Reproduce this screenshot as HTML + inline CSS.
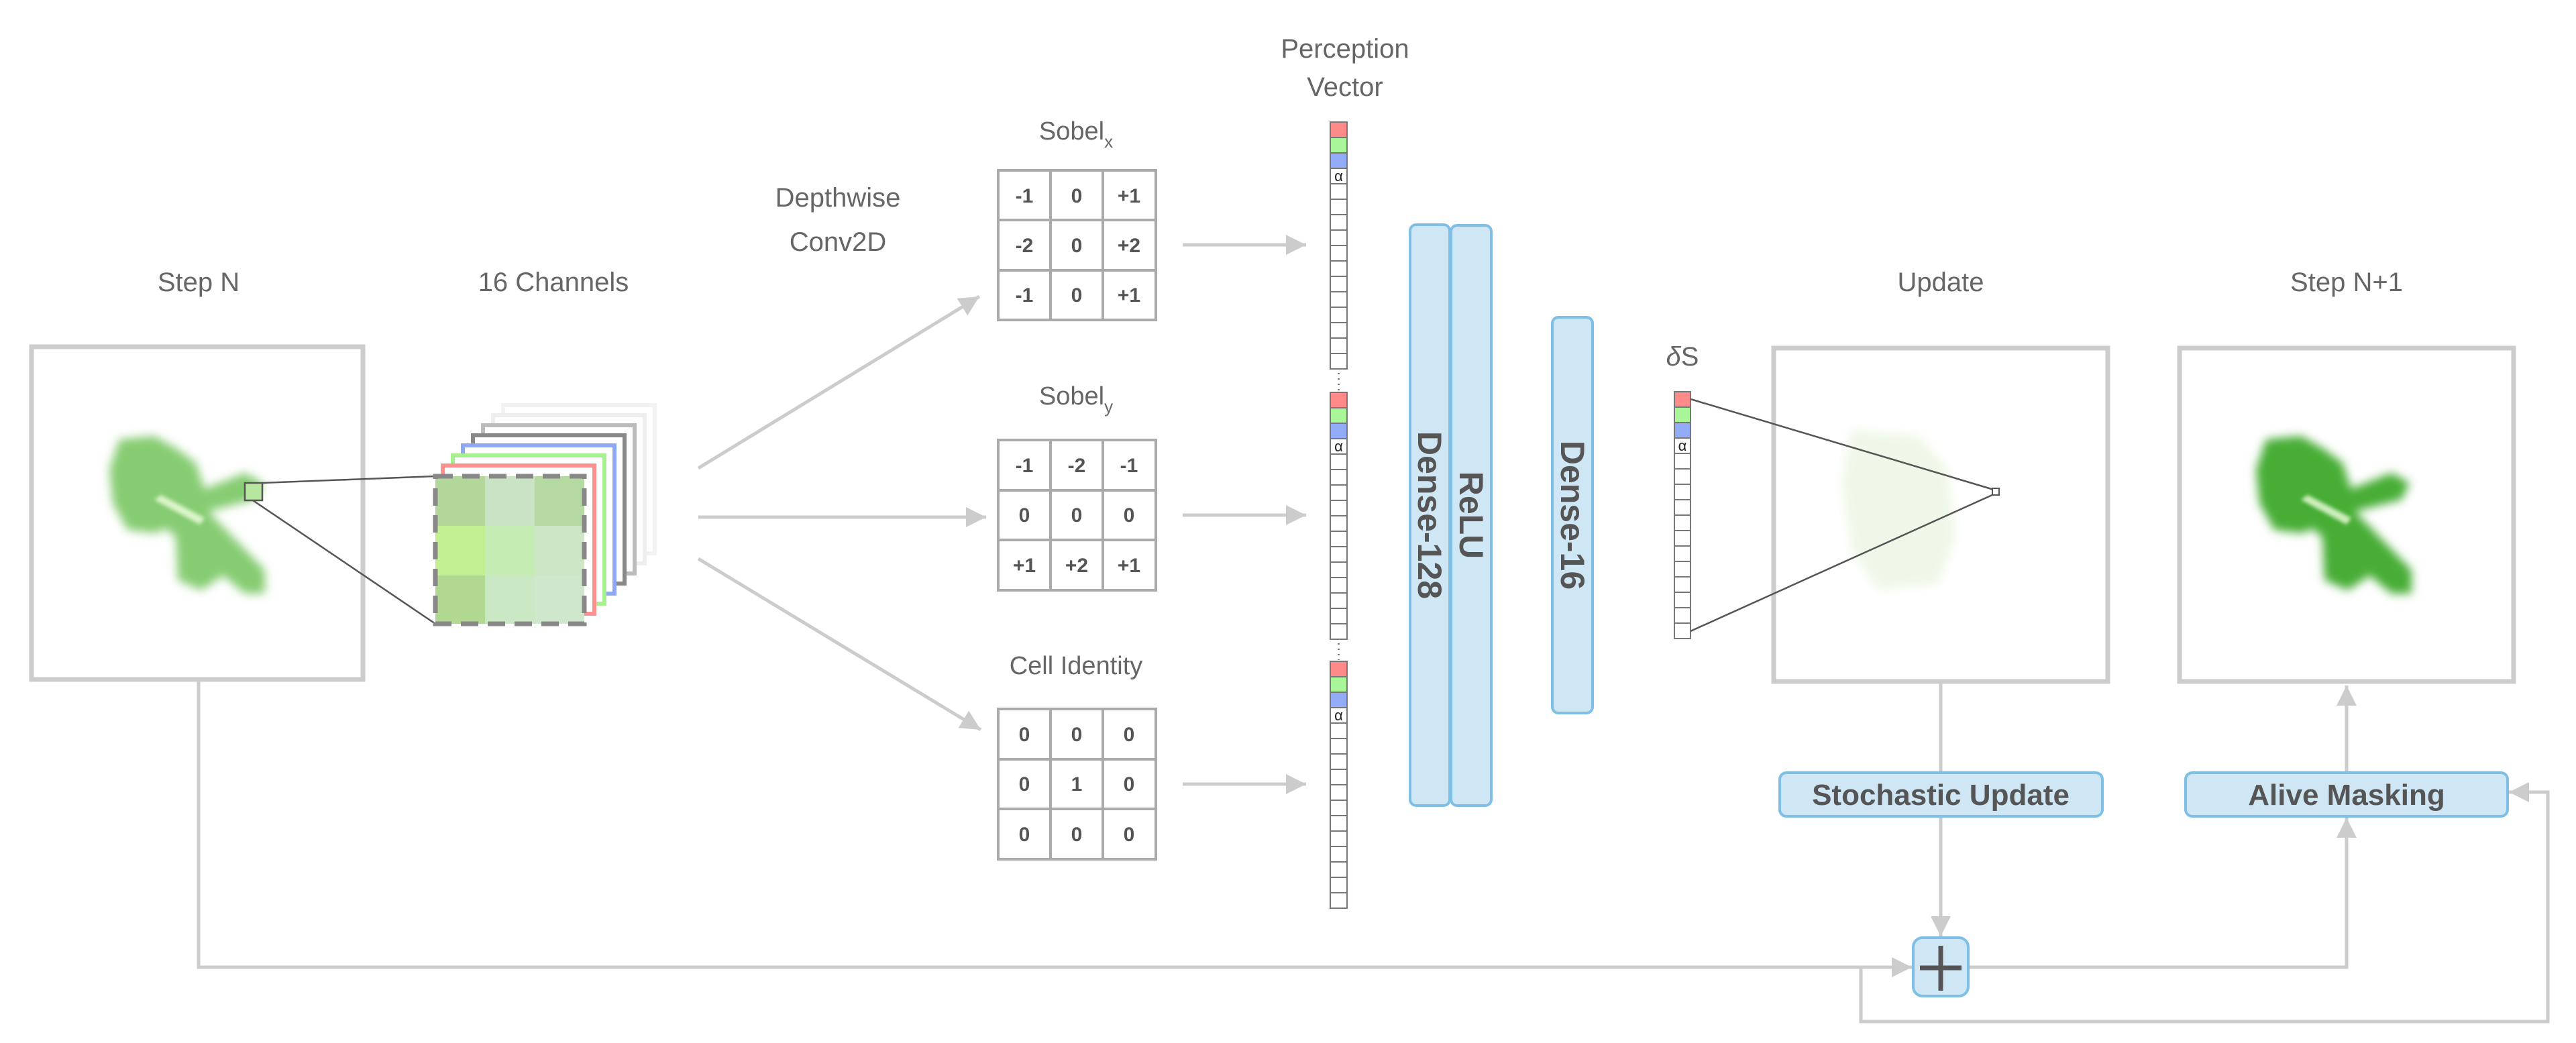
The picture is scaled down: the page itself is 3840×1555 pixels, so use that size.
<!DOCTYPE html>
<html><head><meta charset="utf-8"><style>
html,body{margin:0;padding:0;background:#fff;}
svg{display:block;}
text{font-family:"Liberation Sans",sans-serif;}
</style></head><body>
<svg width="3840" height="1555" viewBox="0 0 3840 1555" xmlns="http://www.w3.org/2000/svg">
<defs>
<filter id="bl" x="-20%" y="-20%" width="140%" height="140%"><feGaussianBlur stdDeviation="7"/></filter>
<filter id="bl2" x="-20%" y="-20%" width="140%" height="140%"><feGaussianBlur stdDeviation="3"/></filter>
<g id="liz">
  <g filter="url(#bl)">
    <polygon points="178,655 230,650 262,668 292,690 305,730 275,775 232,795 190,790 168,750 163,700"/>
    <polygon points="225,720 255,705 395,850 395,885 365,885 225,770"/>
    <polygon points="290,735 365,705 392,720 380,745 300,765"/>
    <polygon points="262,800 310,790 330,860 300,880 265,865"/>
  </g>
  <g filter="url(#bl2)" opacity="0.8">
    <polygon points="230,745 240,738 305,772 298,782" fill="#f2ffe0"/>
  </g>
</g>
<marker id="ah" viewBox="0 0 10 10" refX="10" refY="5" markerWidth="6" markerHeight="6" orient="auto" markerUnits="strokeWidth"><path d="M0,0 L10,5 L0,10 z" fill="#cccccc"/></marker>
</defs>

<!-- labels -->
<g fill="#666" font-size="40" text-anchor="middle">
<text x="296" y="434">Step N</text>
<text x="825" y="434">16 Channels</text>
<text x="1249" y="308">Depthwise</text>
<text x="1249" y="374">Conv2D</text>
<text x="2005" y="86">Perception</text>
<text x="2005" y="143">Vector</text>
<text x="2893" y="434">Update</text>
<text x="3498" y="434">Step N+1</text>
<text x="1604" y="208" font-size="38">Sobel<tspan font-size="26" dy="12">x</tspan></text>
<text x="1604" y="603" font-size="38">Sobel<tspan font-size="26" dy="12">y</tspan></text>
<text x="1604" y="1005" font-size="38">Cell Identity</text>
<text x="2508" y="545" font-size="40" font-family="Liberation Serif" font-style="italic">δ<tspan font-style="normal" font-family="Liberation Sans">S</tspan></text>
</g>

<!-- Step N box -->
<rect x="47" y="517" width="494" height="496" fill="none" stroke="#cccccc" stroke-width="7"/>
<use href="#liz" fill="#86cc72"/>
<rect x="365" y="720" width="26" height="26" fill="#b7e79f" stroke="#555" stroke-width="2.5"/>
<line x1="390" y1="720" x2="649" y2="710" stroke="#555" stroke-width="2.5"/>
<line x1="377" y1="746" x2="649" y2="930" stroke="#555" stroke-width="2.5"/>

<!-- channel stack -->
<g fill="#fff" stroke-width="6">
<rect x="750" y="604" width="226" height="221" stroke="#f2f2f2"/>
<rect x="735" y="619" width="226" height="221" stroke="#eeeeee"/>
<rect x="720" y="634" width="226" height="221" stroke="#bbbbbb"/>
<rect x="705" y="649" width="226" height="221" stroke="#888888"/>
<rect x="690" y="664" width="226" height="221" stroke="#8fa8f5"/>
<rect x="675" y="679" width="226" height="221" stroke="#a6f08f"/>
<rect x="660" y="694" width="226" height="221" stroke="#ff9090"/>
</g>
<g>
<rect x="649" y="710" width="74" height="74" fill="#b3d69a"/>
<rect x="723" y="710" width="74" height="74" fill="#cbe3c5"/>
<rect x="797" y="710" width="74" height="74" fill="#b5d9a2"/>
<rect x="649" y="784" width="74" height="74" fill="#c3ef93"/>
<rect x="723" y="784" width="74" height="74" fill="#c4ecb3"/>
<rect x="797" y="784" width="74" height="74" fill="#cde6c5"/>
<rect x="649" y="858" width="74" height="72" fill="#b1d890"/>
<rect x="723" y="858" width="74" height="72" fill="#cbe8c5"/>
<rect x="797" y="858" width="74" height="72" fill="#cfe8cd"/>
</g>
<rect x="649" y="710" width="222" height="220" fill="none" stroke="#888" stroke-width="7" stroke-dasharray="26,14"/>

<!-- arrows to kernels -->
<g stroke="#cccccc" stroke-width="5" fill="none" marker-end="url(#ah)">
<line x1="1041" y1="698" x2="1460" y2="442"/>
<line x1="1041" y1="771" x2="1470" y2="771"/>
<line x1="1041" y1="833" x2="1462" y2="1088"/>
<line x1="1763" y1="365" x2="1947" y2="365"/>
<line x1="1763" y1="768" x2="1947" y2="768"/>
<line x1="1763" y1="1169" x2="1947" y2="1169"/>
</g>

<!-- kernel tables -->
<g stroke="#aaaaaa" stroke-width="4" fill="none">
<rect x="1488" y="254" width="235" height="223"/>
<line x1="1566" y1="254" x2="1566" y2="477"/><line x1="1644" y1="254" x2="1644" y2="477"/>
<line x1="1488" y1="328" x2="1723" y2="328"/><line x1="1488" y1="403" x2="1723" y2="403"/>
<rect x="1488" y="656" width="235" height="224"/>
<line x1="1566" y1="656" x2="1566" y2="880"/><line x1="1644" y1="656" x2="1644" y2="880"/>
<line x1="1488" y1="731" x2="1723" y2="731"/><line x1="1488" y1="805" x2="1723" y2="805"/>
<rect x="1488" y="1057" width="235" height="224"/>
<line x1="1566" y1="1057" x2="1566" y2="1281"/><line x1="1644" y1="1057" x2="1644" y2="1281"/>
<line x1="1488" y1="1132" x2="1723" y2="1132"/><line x1="1488" y1="1206" x2="1723" y2="1206"/>
</g>
<g fill="#555" font-size="30" font-weight="bold" text-anchor="middle">
<text x="1527" y="302">-1</text><text x="1605" y="302">0</text><text x="1683" y="302">+1</text>
<text x="1527" y="376">-2</text><text x="1605" y="376">0</text><text x="1683" y="376">+2</text>
<text x="1527" y="450">-1</text><text x="1605" y="450">0</text><text x="1683" y="450">+1</text>
<text x="1527" y="704">-1</text><text x="1605" y="704">-2</text><text x="1683" y="704">-1</text>
<text x="1527" y="778">0</text><text x="1605" y="778">0</text><text x="1683" y="778">0</text>
<text x="1527" y="853">+1</text><text x="1605" y="853">+2</text><text x="1683" y="853">+1</text>
<text x="1527" y="1105">0</text><text x="1605" y="1105">0</text><text x="1683" y="1105">0</text>
<text x="1527" y="1179">0</text><text x="1605" y="1179">1</text><text x="1683" y="1179">0</text>
<text x="1527" y="1254">0</text><text x="1605" y="1254">0</text><text x="1683" y="1254">0</text>
</g>

<!-- perception vector -->
<g id="vseg" stroke="#777" stroke-width="2">
<rect x="1983" y="182" width="25" height="23" fill="#ff8a8a"/>
<rect x="1983" y="205" width="25" height="23" fill="#a8f59a"/>
<rect x="1983" y="228" width="25" height="23" fill="#93acf7"/>
<rect x="1983" y="251" width="25" height="23" fill="#fff"/>
<rect x="1983" y="274" width="25" height="23" fill="#fff"/>
<rect x="1983" y="297" width="25" height="23" fill="#fff"/>
<rect x="1983" y="320" width="25" height="23" fill="#fff"/>
<rect x="1983" y="343" width="25" height="23" fill="#fff"/>
<rect x="1983" y="366" width="25" height="23" fill="#fff"/>
<rect x="1983" y="389" width="25" height="23" fill="#fff"/>
<rect x="1983" y="412" width="25" height="23" fill="#fff"/>
<rect x="1983" y="435" width="25" height="23" fill="#fff"/>
<rect x="1983" y="458" width="25" height="23" fill="#fff"/>
<rect x="1983" y="481" width="25" height="23" fill="#fff"/>
<rect x="1983" y="504" width="25" height="23" fill="#fff"/>
<rect x="1983" y="527" width="25" height="23" fill="#fff"/>
</g>
<text x="1995.5" y="270" font-size="22" text-anchor="middle" fill="#222">α</text>
<g transform="translate(0,403)"><use href="#vseg"/><text x="1995.5" y="270" font-size="22" text-anchor="middle" fill="#222">α</text></g>
<g transform="translate(0,804)"><use href="#vseg"/><text x="1995.5" y="270" font-size="22" text-anchor="middle" fill="#222">α</text></g>
<g stroke="#666" stroke-width="2.5" stroke-dasharray="2,6">
<line x1="1995.5" y1="556" x2="1995.5" y2="582"/>
<line x1="1995.5" y1="959" x2="1995.5" y2="984"/>
</g>

<!-- dense layers -->
<g fill="#cfe6f5" stroke="#7fbfe6" stroke-width="4">
<rect x="2102" y="335" width="59" height="866" rx="9"/>
<rect x="2163" y="336" width="60" height="865" rx="9"/>
<rect x="2314" y="473" width="60" height="590" rx="9"/>
</g>
<g fill="#555" font-size="50" font-weight="bold" text-anchor="middle">
<text transform="translate(2114,768) rotate(90)">Dense-128</text>
<text transform="translate(2176,768) rotate(90)">ReLU</text>
<text transform="translate(2327,768) rotate(90)">Dense-16</text>
</g>

<!-- delta S vector -->
<g stroke="#777" stroke-width="2">
<rect x="2496" y="584" width="24" height="23" fill="#ff8a8a"/>
<rect x="2496" y="607" width="24" height="23" fill="#a8f59a"/>
<rect x="2496" y="630" width="24" height="23" fill="#93acf7"/>
<rect x="2496" y="653" width="24" height="23" fill="#fff"/>
<rect x="2496" y="676" width="24" height="23" fill="#fff"/>
<rect x="2496" y="699" width="24" height="23" fill="#fff"/>
<rect x="2496" y="722" width="24" height="23" fill="#fff"/>
<rect x="2496" y="745" width="24" height="23" fill="#fff"/>
<rect x="2496" y="768" width="24" height="23" fill="#fff"/>
<rect x="2496" y="791" width="24" height="23" fill="#fff"/>
<rect x="2496" y="814" width="24" height="23" fill="#fff"/>
<rect x="2496" y="837" width="24" height="23" fill="#fff"/>
<rect x="2496" y="860" width="24" height="23" fill="#fff"/>
<rect x="2496" y="883" width="24" height="23" fill="#fff"/>
<rect x="2496" y="906" width="24" height="23" fill="#fff"/>
<rect x="2496" y="929" width="24" height="23" fill="#fff"/>
</g>
<text x="2508" y="672" font-size="22" text-anchor="middle" fill="#222">α</text>

<!-- Update box -->
<rect x="2644" y="519" width="498" height="497" fill="none" stroke="#cccccc" stroke-width="7"/>
<g filter="url(#bl)" fill="#eef7e6" opacity="0.9">
<polygon points="2760,640 2860,650 2905,700 2915,800 2890,870 2800,880 2760,820 2745,720"/>
</g>
<line x1="2520" y1="595" x2="2972" y2="730" stroke="#555" stroke-width="2.5"/>
<line x1="2520" y1="941" x2="2972" y2="737" stroke="#555" stroke-width="2.5"/>
<rect x="2970" y="728" width="10" height="10" fill="#fff" stroke="#555" stroke-width="2"/>

<!-- Step N+1 box -->
<rect x="3249" y="519" width="498" height="497" fill="none" stroke="#cccccc" stroke-width="7"/>
<use href="#liz" fill="#47ad35" transform="translate(3200,0)"/>

<!-- connectors -->
<g stroke="#cccccc" stroke-width="5" fill="none">
<line x1="2893" y1="1016" x2="2893" y2="1152"/>
<line x1="2893" y1="1217" x2="2893" y2="1396" marker-end="url(#ah)"/>
<polyline points="296,1016 296,1442 2850,1442" marker-end="url(#ah)"/>
<polyline points="2934,1442 3498,1442 3498,1219" marker-end="url(#ah)"/>
<line x1="3498" y1="1152" x2="3498" y2="1022" marker-end="url(#ah)"/>
<polyline points="2774,1442 2774,1523 3798,1523 3798,1181 3740,1181" marker-end="url(#ah)"/>
</g>

<!-- process boxes -->
<g fill="#cfe6f5" stroke="#7fbfe6" stroke-width="4">
<rect x="2653" y="1152" width="481" height="65" rx="10"/>
<rect x="3258" y="1152" width="480" height="65" rx="10"/>
<rect x="2852" y="1398" width="82" height="87" rx="14"/>
</g>
<g fill="#555" font-size="44" font-weight="bold" text-anchor="middle">
<text x="2893" y="1200">Stochastic Update</text>
<text x="3498" y="1200">Alive Masking</text>
</g>
<g stroke="#555" stroke-width="7">
<line x1="2893" y1="1410" x2="2893" y2="1477"/>
<line x1="2862" y1="1443" x2="2924" y2="1443"/>
</g>
</svg>
</body></html>
